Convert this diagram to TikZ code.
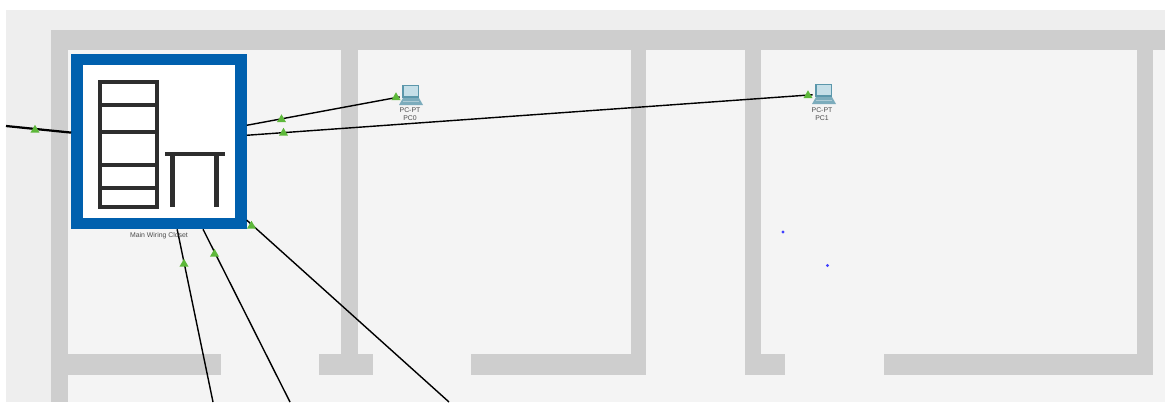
\documentclass[tikz,border=0pt]{standalone}
\usepackage{fontspec}
\setmainfont{Liberation Sans}
\usetikzlibrary{shapes.geometric}

\definecolor{floorout}{HTML}{EEEEEE}
\definecolor{floorin}{HTML}{F4F4F4}
\definecolor{wallgray}{HTML}{CECECE}
\definecolor{closetblue}{HTML}{0060AE}
\definecolor{ledgreen}{HTML}{5DB83A}
\definecolor{pcteal}{HTML}{5B97AB}
\definecolor{pcscreen}{HTML}{C5DFE8}

\begin{document}
\begin{tikzpicture}[x=0.025cm,y=-0.025cm,
 wall/.style={fill=wallgray},
 closet/.style={draw=closetblue,fill=white,line width=0.2875cm,minimum size=4.1cm,inner sep=0pt},
 pcbox/.style={minimum width=0.5cm,minimum height=0.45cm,inner sep=0pt},
 caption/.style={align=center,text=black!70,font=\fontsize{4.9}{6}\selectfont,inner sep=0pt},
 led/.style={regular polygon,regular polygon sides=3,fill=ledgreen,minimum size=0.26cm,inner sep=0pt},
 spot/.style={circle,fill=blue!75,minimum size=0.08cm,inner sep=0pt},
 cable/.style={line width=1pt,black},
 shelfline/.style={line width=0.105cm,black!82},
 pcicon/.pic={
  \fill[pcteal!80] (-11,10)--(-7,3)--(9,3)--(13,10)--cycle;
  \fill[pcteal] (-8,-10) rectangle (9,3);
  \fill[pcscreen] (-6,-9) rectangle (8,1);
  \fill[white!50!pcteal] (-7,6) rectangle (9,7);
 }]
\useasboundingbox (0,0) rectangle (1165,402);
\fill[white] (0,0) rectangle (1165,402);
\fill[floorout] (6,10) rectangle (1165,402);
\fill[floorin] (51,30) rectangle (1165,402);

\fill[wall] (51,30) rectangle (1165,50);
\fill[wall] (51,30) rectangle (68,402);
\fill[wall] (341,50) rectangle (358,354);
\fill[wall] (631,50) rectangle (646,354);
\fill[wall] (745,50) rectangle (761,354);
\fill[wall] (1137,50) rectangle (1153,354);
\fill[wall] (68,354) rectangle (221,375);
\fill[wall] (319,354) rectangle (373,375);
\fill[wall] (471,354) rectangle (646,375);
\fill[wall] (745,354) rectangle (785,375);
\fill[wall] (884,354) rectangle (1153,375);

\node[closet] (closet) at (159,141.5) {};
\node[pcbox] (pc0) at (410,95) {};
\node[pcbox] (pc1) at (823,94) {};
\coordinate (westend) at (6,126);
\coordinate (southa) at (213,402);
\coordinate (southb) at (290,402);
\coordinate (southc) at (449,402);

\draw[cable,line width=1.6pt] (closet)--(westend);
\draw[cable] (closet)--(pc0);
\draw[cable] (closet)--(pc1);
\draw[cable] (closet)--(southa);
\draw[cable] (closet)--(southb);
\draw[cable] (closet)--(southc);

\pic at (pc0) {pcicon};
\pic at (pc1) {pcicon};

\draw[shelfline] (100,82) rectangle (157,207);
\draw[shelfline] (100,105)--(157,105);
\draw[shelfline] (100,132)--(157,132);
\draw[shelfline] (100,165)--(157,165);
\draw[shelfline] (100,188)--(157,188);
\draw[shelfline] (165,154)--(225,154);
\draw[shelfline] (172.5,154)--(172.5,207);
\draw[shelfline] (216.5,154)--(216.5,207);

\node[caption] (closetname) at (159,236) {Main Wiring Closet};
\node[caption] (pc0name) at (410,114) {PC-PT\\PC0};
\node[caption] (pc1name) at (822,114) {PC-PT\\PC1};

\node[led] (leda) at (35,130) {};
\node[led] (ledb) at (281.5,119.5) {};
\node[led] (ledc) at (396,97.5) {};
\node[led] (ledd) at (283.5,133) {};
\node[led] (lede) at (808,95.5) {};
\node[led] (ledf) at (251.5,226) {};
\node[led] (ledg) at (214.5,254) {};
\node[led] (ledh) at (184,264) {};

\node[spot] (spota) at (783,232) {};
\node[spot] (spotb) at (827.5,265.5) {};
\end{tikzpicture}
\end{document}
